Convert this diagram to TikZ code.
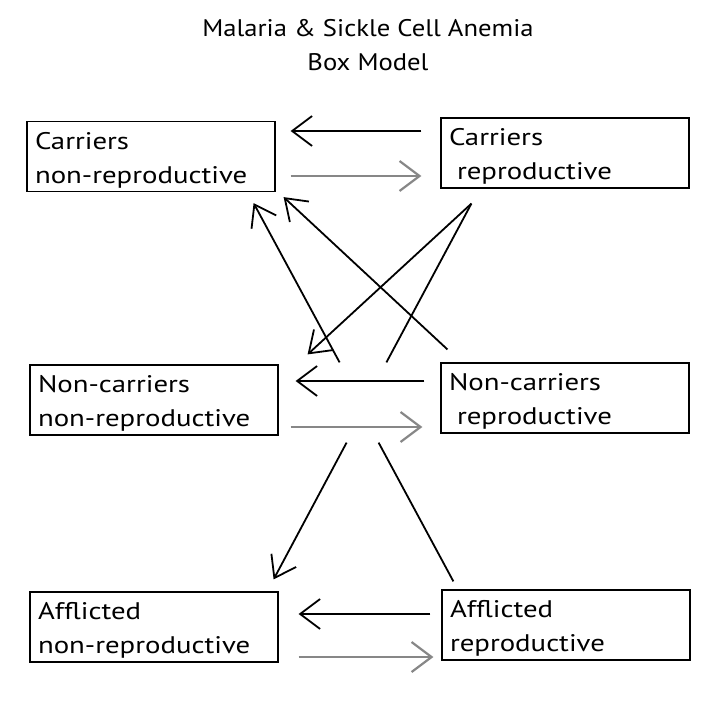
\documentclass[tikz,border=0pt]{standalone}
\usepackage{fontspec}
\setmainfont{PT Sans}
\newfontfamily\boxfont{PT Sans}[FakeStretch=1.2]
\newfontfamily\titlefont{PT Sans}[FakeStretch=1.11]
\usetikzlibrary{arrows.meta}
\definecolor{arrowgray}{RGB}{135,135,135}

\begin{document}
\begin{tikzpicture}[x=1pt, y=-1pt,
    box/.style={draw, line width=1.2pt, minimum width=248pt, minimum height=70pt,
      text width=232pt, inner xsep=8pt, align=left,
      font=\boxfont\fontsize{24}{34}\selectfont,
      execute at begin node={\rule{0pt}{24pt}}},
    back/.style={line width=1.8pt, -{Straight Barb[length=20pt, width=30pt, line width=1.8pt]}},
    fwd/.style={line width=2.6pt, arrowgray, -{Straight Barb[length=20pt, width=30pt, line width=2.2pt]}},
    link/.style={line width=1.8pt, -{Straight Barb[length=20pt, width=28pt, line width=1.8pt]}}]
  \useasboundingbox (0,0) rectangle (708,719);
  % title
  \node[align=center, font=\titlefont\fontsize{24}{34}\selectfont] (title) at (368,45) {Malaria \& Sickle Cell Anemia\\Box Model};
  % boxes
  \node[box] (cn)  at (151,156.5) {Carriers\\non-reproductive};
  \node[box] (cr)  at (565,153)   {Carriers\\\ reproductive};
  \node[box] (ncn) at (154,400)   {Non-carriers\\non-reproductive};
  \node[box] (ncr) at (565,398)   {Non-carriers\\\ reproductive};
  \node[box] (an)  at (154,627)   {Afflicted\\non-reproductive};
  \node[box] (ar)  at (566,625)   {Afflicted\\reproductive};
  % horizontal arrows
  \draw[back] ([shift={(-19,-22)}]cr.west) -- ([shift={(15,-25.5)}]cn.east);
  \draw[fwd]  ([shift={(15,19.5)}]cn.east) -- ([shift={(-19,23)}]cr.west);
  \draw[back] ([shift={(-16,-17)}]ncr.west) -- ([shift={(17,-19)}]ncn.east);
  \draw[fwd]  ([shift={(12,27)}]ncn.east) -- ([shift={(-18,29)}]ncr.west);
  \draw[back] ([shift={(-11,-11)}]ar.west) -- ([shift={(20,-13)}]an.east);
  \draw[fwd]  ([shift={(20,30)}]an.east) -- ([shift={(-8,32)}]ar.west);
  % diagonals
  \draw[link] ([shift={(61,-2)}]ncn.north east) -- ([shift={(-22,11)}]cn.south east);
  \draw[link] ([shift={(7,-13)}]ncr.north west) -- ([shift={(8,5)}]cn.south east);
  \draw[link] ([shift={(31,15)}]cr.south west) -- ([shift={(29,-10)}]ncn.north east);
  \draw[line width=1.8pt] ([shift={(31,15)}]cr.south west) -- ([shift={(-54,0)}]ncr.north west);
  \draw[link] ([shift={(68,7)}]ncn.south east) -- ([shift={(-5,-12)}]an.north east);
  \draw[line width=1.8pt] ([shift={(100,7)}]ncn.south east) -- ([shift={(12,-8)}]ar.north west);
\end{tikzpicture}
\end{document}
